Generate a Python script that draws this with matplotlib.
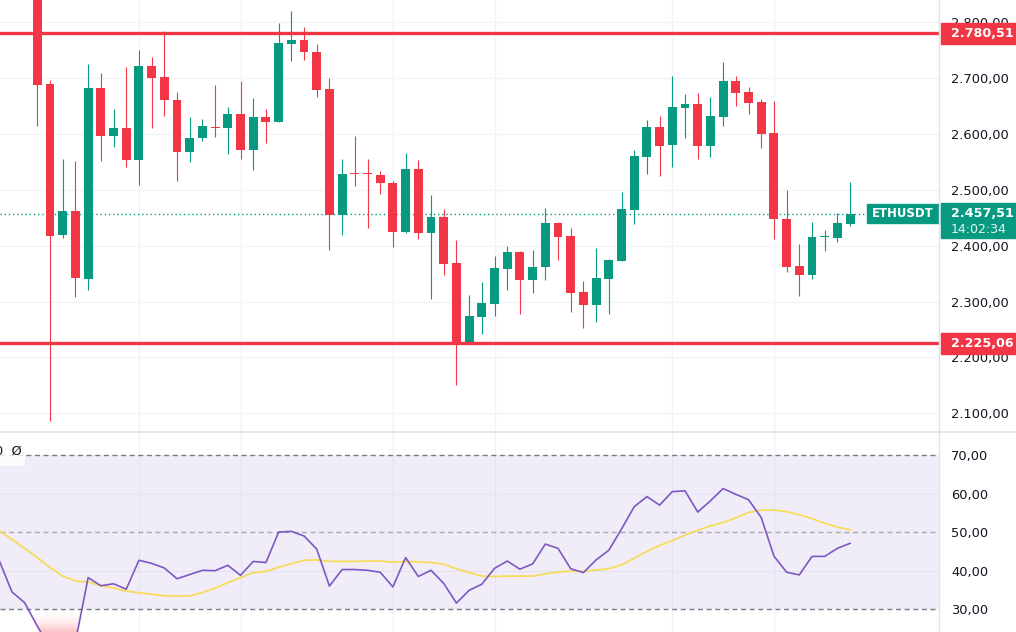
import matplotlib.pyplot as plt
import matplotlib.transforms as mtransforms
from matplotlib.patches import Rectangle
from matplotlib.lines import Line2D
from matplotlib.colors import LinearSegmentedColormap
from matplotlib.ticker import FuncFormatter
import numpy as np

# -----------------------------------------------------------
# ETHUSDT daily candles + RSI pane (TradingView look)
# candle index 0 is the first candle on screen
# -----------------------------------------------------------

opens = [2885, 2689, 2419, 2462, 2341, 2682, 2596, 2611, 2553, 2722,
         2702, 2661, 2568, 2592, 2613, 2611, 2636, 2572, 2630, 2622,
         2762, 2768, 2747, 2681, 2455, 2528.5, 2528.5, 2527, 2512, 2425,
         2537, 2423, 2451, 2369, 2225, 2273, 2296, 2359, 2389, 2339,
         2361, 2441, 2417, 2317, 2294, 2341, 2373, 2464, 2559, 2612,
         2581, 2647, 2654, 2579, 2631, 2695, 2675, 2657, 2602, 2448,
         2364, 2348, 2415, 2414, 2439]
highs = [2895, 2697, 2555, 2551, 2725, 2709, 2645, 2720, 2750, 2738,
         2784, 2675, 2630, 2627, 2688, 2648, 2695, 2665, 2645, 2799,
         2820, 2792, 2761, 2700, 2555, 2596, 2555, 2534, 2515, 2566,
         2553, 2491, 2465, 2410, 2312, 2335, 2381, 2399, 2391, 2392,
         2468, 2442, 2432, 2337, 2395, 2376, 2496, 2571, 2625, 2632,
         2704, 2672, 2673, 2666, 2729, 2704, 2684, 2663, 2659, 2500,
         2403, 2442, 2428, 2459, 2514]
lows = [2614, 2087, 2414, 2309, 2321, 2552, 2577, 2541, 2509, 2611,
        2633, 2516, 2550, 2588, 2595, 2564, 2555, 2536, 2584, 2621,
        2731, 2732, 2667, 2393, 2420, 2507, 2432, 2493, 2398, 2423,
        2412, 2305, 2348, 2151, 2224, 2241, 2275, 2321, 2278, 2316,
        2339, 2375, 2282, 2253, 2264, 2278, 2372, 2438, 2529, 2525,
        2540, 2593, 2556, 2559, 2615, 2651, 2635, 2575, 2412, 2352,
        2310, 2341, 2391, 2407, 2435]
closes = [2688, 2418, 2462, 2343, 2682, 2596, 2611, 2553, 2722, 2700,
          2660, 2568, 2593, 2614, 2610, 2636, 2572, 2630, 2622, 2763,
          2768, 2746, 2679, 2455, 2528, 2527.5, 2527.5, 2513, 2425, 2537,
          2423, 2451, 2368, 2225, 2274, 2297, 2360, 2389, 2339, 2362,
          2441, 2416, 2316, 2294, 2343, 2374, 2466, 2561, 2612, 2579,
          2648, 2654, 2579, 2632, 2695, 2674, 2656, 2600, 2447, 2362,
          2348, 2416, 2416, 2441, 2457.51]

# RSI(14) and its moving average, starting 3 candles before index 0
rsi_start = -3
rsi = [42.6, 34.5, 31.7, 25.6, 20.0, 22.5, 21.5, 38.2, 36.1, 36.6,
       35.2, 42.7, 41.9, 40.7, 37.9, 39.0, 40.1, 40.0, 41.4, 38.8,
       42.4, 42.1, 50.0, 50.2, 49.0, 45.6, 36.0, 40.3, 40.3, 40.1,
       39.6, 35.8, 43.4, 38.5, 40.1, 36.7, 31.6, 34.9, 36.5, 40.6,
       42.5, 40.4, 41.75, 46.9, 45.8, 40.5, 39.5, 42.8, 45.3, 50.8,
       56.6, 59.2, 57.0, 60.5, 60.7, 55.2, 58.1, 61.3, 59.8, 58.4,
       53.8, 43.8, 39.6, 38.9, 43.7, 43.7, 45.8, 47.1]
rsi_ma = [50.3, 48.1, 45.8, 43.4, 40.8, 38.6, 37.3, 37.1, 36.1, 35.5,
          34.7, 34.3, 33.9, 33.5, 33.4, 33.5, 34.3, 35.5, 36.9, 38.2,
          39.5, 39.8, 40.9, 41.8, 42.7, 42.8, 42.4, 42.4, 42.4, 42.5,
          42.5, 42.2, 42.4, 42.3, 42.1, 41.7, 40.5, 39.5, 38.6, 38.5,
          38.6, 38.6, 38.6, 39.2, 39.6, 39.9, 39.8, 40.2, 40.5, 41.5,
          43.2, 45.0, 46.5, 47.8, 49.2, 50.5, 51.6, 52.5, 53.7, 55.1,
          55.7, 55.7, 55.3, 54.5, 53.5, 52.3, 51.3, 50.6]

symbol = 'ETHUSDT'
last_price = 2457.51
countdown = '14:02:34'
resistance = 2780.51
support = 2225.06

price_ticks = [2100, 2200, 2300, 2400, 2500, 2600, 2700, 2800]
rsi_ticks = [30, 40, 50, 60, 70]
time_grid = [8, 16, 28, 36, 50, 58]   # candles with a vertical grid line

GREEN = '#089981'
RED = '#F23645'
PURPLE = '#7E57C2'
YELLOW = '#F6DC5C'
GRID = '#F0F3FA'
BORDER = '#E0E3EB'
TEXT = '#131722'

W, H = 1016, 632
XLIM = (-2.94, 71.0)
PLIM = (2068.2, 2839.9)
RLIM = (24.1, 75.96)


def fmt(v, pos=None):
    return f'{v:,.2f}'.replace(',', ' ').replace('.', ',').replace(' ', '.')


fig = plt.figure(figsize=(W / 100, H / 100), dpi=100)
ax = fig.add_axes([0, 201 / H, 939 / W, 431 / H])
ax2 = fig.add_axes([0, 0, 939 / W, 200 / H])

for a in (ax, ax2):
    a.set_xlim(*XLIM)
    for s in a.spines.values():
        s.set_visible(False)
    a.set_xticks([])
    a.yaxis.tick_right()
    a.tick_params(axis='y', length=0, pad=8.6, labelsize=9.4, labelcolor=TEXT)
    a.yaxis.set_major_formatter(FuncFormatter(fmt))
    for t in time_grid:
        a.axvline(t, color=GRID, lw=1, zorder=0)

#
# Price pane
#
ax.set_ylim(*PLIM)
ax.set_yticks(price_ticks)
for p in price_ticks:
    ax.axhline(p, color=GRID, lw=1, zorder=0)

for i in range(len(opens)):
    o, h, l, c = opens[i], highs[i], lows[i], closes[i]
    col = GREEN if c > o else RED
    ax.vlines(i, l, h, color=col, lw=0.8, zorder=3)
    ax.bar(i, max(abs(c - o), 2.5), bottom=min(o, c), width=0.7,
           color=col, lw=0, zorder=3)

ax.axhline(resistance, color=RED, lw=2.4, zorder=4)
ax.axhline(support, color=RED, lw=2.4, zorder=4)

blend = mtransforms.blended_transform_factory(fig.transFigure, ax.transData)
ppx = (PLIM[1] - PLIM[0]) / 431.0   # price per pixel

ax.plot([0, 867 / W], [last_price, last_price], transform=blend,
        color=GREEN, lw=1, ls=(0, (1, 2)), clip_on=False, zorder=2)

# level labels on the price scale
for lvl in (resistance, support):
    ax.add_patch(Rectangle((941 / W, lvl - 10.5 * ppx), 75 / W, 21 * ppx,
                           transform=blend, color=RED, clip_on=False, zorder=10))
    ax.text(951 / W, lvl, fmt(lvl), transform=blend, color='white',
            fontsize=9.2, fontweight='bold', va='center', ha='left',
            clip_on=False, zorder=11)

ax.add_patch(Rectangle((941 / W, last_price - 24 * ppx), 75 / W, 34.5 * ppx,
                       transform=blend, color=GREEN, clip_on=False, zorder=10))
ax.text(951 / W, last_price, fmt(last_price), transform=blend, color='white',
        fontsize=9.2, fontweight='bold', va='center', ha='left',
        clip_on=False, zorder=11)
ax.text(951 / W, last_price - 15.5 * ppx, countdown, transform=blend,
        color='white', alpha=0.9, fontsize=9.0, va='center', ha='left',
        clip_on=False, zorder=11)

ax.add_patch(Rectangle((867 / W, last_price - 9.7 * ppx), 72 / W, 19.4 * ppx,
                       transform=blend, color=GREEN, clip_on=False, zorder=10))
ax.text(903 / W, last_price, symbol, transform=blend, color='white',
        fontsize=8.4, fontweight='bold', va='center', ha='center',
        clip_on=False, zorder=11)

#
# RSI pane
#
ax2.set_ylim(*RLIM)
ax2.set_yticks(rsi_ticks)
for r in (40, 60):
    ax2.axhline(r, color=GRID, lw=1, zorder=0)
ax2.axhspan(30, 70, color=PURPLE, alpha=0.1, lw=0, zorder=0.5)
ax2.axhline(70, color='#787B86', lw=1, ls=(0, (3.6, 2.6)), zorder=2)
ax2.axhline(50, color='#787B86', lw=1, ls=(0, (3.6, 2.6)), alpha=0.6, zorder=2)
ax2.axhline(30, color='#787B86', lw=1, ls=(0, (3.6, 2.6)), zorder=2)

rx = np.arange(rsi_start, rsi_start + len(rsi))
rv = np.array(rsi)

# oversold gradient fill
poly = ax2.fill_between(rx, rv, 30, where=rv < 30, interpolate=True,
                        facecolor='none', lw=0)
cmap = LinearSegmentedColormap.from_list(
    'os', [(1, 1, 1, 0), (0.95, 0.21, 0.27, 0.30)])
grad = np.linspace(1, 0, 100).reshape(-1, 1)
im = ax2.imshow(grad, extent=[XLIM[0], XLIM[1], RLIM[0], 30], origin='lower',
                aspect='auto', cmap=cmap, zorder=1)
im.set_clip_path(poly.get_paths()[0], transform=ax2.transData)
ax2.set_xlim(*XLIM)
ax2.set_ylim(*RLIM)

ax2.plot(np.arange(rsi_start, rsi_start + len(rsi_ma)), rsi_ma,
         color=YELLOW, lw=1.3, zorder=3)
ax2.plot(rx, rv, color=PURPLE, lw=1.2, zorder=4)

#
# Pane borders and cut-off legend
#
fig.add_artist(Line2D([0, 1], [1 - 431.5 / H] * 2, color=BORDER, lw=1.2))
fig.add_artist(Line2D([939 / W] * 2, [0, 1], color=BORDER, lw=1))
fig.add_artist(Rectangle((0, 1 - 466 / H), 25 / W, 22 / H, color='white',
                         alpha=0.8, lw=0, zorder=5))
fig.text(-5 / W, 1 - 451 / H, '0  Ø', color=TEXT, fontsize=9.4,
         va='center', ha='left', zorder=6)

fig.savefig('out.png', dpi=100, facecolor='white')
